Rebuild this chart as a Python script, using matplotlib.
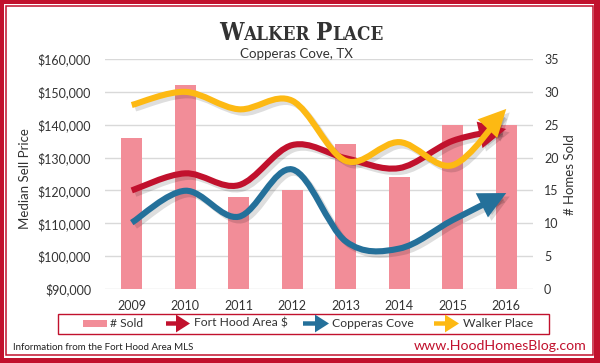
import numpy as np
import matplotlib
matplotlib.use("Agg")
import matplotlib.pyplot as plt
from matplotlib.path import Path
from matplotlib.patches import FancyArrowPatch, Rectangle
import matplotlib.transforms as mtransforms

# ---------------- data ----------------
years = ["2009", "2010", "2011", "2012", "2013", "2014", "2015", "2016"]
homes_sold = [23, 31, 14, 15, 22, 17, 25, 25]
fort_hood = [120000, 125200, 121600, 133800, 129800, 126800, 135100, 138700]
copperas_cove = [110200, 119900, 112000, 126400, 104500, 102300, 111000, 119200]
walker_place = [146000, 150000, 144700, 147300, 129000, 134700, 127700, 144800]

series_names = ["Fort Hood Area $", "Copperas Cove", "Walker Place"]
price_ticks = [90000, 100000, 110000, 120000, 130000, 140000, 150000, 160000]
sold_ticks = [0, 5, 10, 15, 20, 25, 30, 35]

RED = "#C1112D"
BLUE = "#24709A"
YELLOW = "#FDB913"
PINK = "#F28D98"
TXT = "#333333"
FONT = "Lato"

W, H = 600, 363
fig = plt.figure(figsize=(W / 100, H / 100), dpi=100)
fig.patch.set_facecolor(RED)
px = mtransforms.Affine2D().scale(1 / W, -1 / H).translate(0, 1) + fig.transFigure

# frame
fig.patches.append(Rectangle((3.5, 4), 590.5, 354, transform=px, facecolor="white",
                             edgecolor="none", zorder=-10))
fig.patches.append(Rectangle((5.5, 5.8), 587, 349.5, transform=px, facecolor="none",
                             edgecolor=RED, lw=1.1, zorder=-9))

# axes: bars axis (drawn first), price axis on top
ax = fig.add_axes([105 / W, 1 - 289 / H, 428 / W, 230 / H])
ax2 = ax.twinx()
x = np.arange(len(years))

ax.bar(x, homes_sold, width=0.39, color=PINK, zorder=2)
ax.set_ylim(0, 35)
ax.set_yticks(sold_ticks)
ax.set_xlim(-0.5, len(years) - 0.5)
ax.set_xticks(x)
ax.set_xticklabels(years)
ax.grid(axis="y", color="#D9D9D9", lw=1.0)
ax.set_axisbelow(True)
ax.yaxis.tick_right()
ax.yaxis.set_label_position("right")
ax2.yaxis.tick_left()
ax2.yaxis.set_label_position("left")

ax2.set_ylim(90000, 160000)
ax2.set_yticks(price_ticks)
ax2.set_yticklabels([f"${v:,.0f}" for v in price_ticks])

for a in (ax, ax2):
    for s in a.spines.values():
        s.set_visible(False)
    a.tick_params(length=0, colors=TXT, labelsize=9)
    for lab in a.get_xticklabels() + a.get_yticklabels():
        lab.set_fontfamily(FONT)
ax.tick_params(axis="y", pad=8)
ax2.tick_params(axis="y", pad=10)
ax.tick_params(axis="x", pad=8)
ax.patch.set_visible(False)

ax2.set_ylabel("Median Sell Price", fontfamily=FONT, fontsize=9.5, color=TXT)
ax2.yaxis.set_label_coords(31, 179, transform=px)
ax.set_ylabel("# Homes Sold", fontfamily=FONT, fontsize=9.5, color=TXT)
ax.yaxis.set_label_coords(564, 175, transform=px)


def smooth_path(xs, ys):
    pts = np.column_stack([xs, ys]).astype(float)
    n = len(pts)
    verts = [pts[0]]
    codes = [Path.MOVETO]
    for i in range(n - 1):
        p_prev = pts[i - 1] if i > 0 else pts[i]
        p_next2 = pts[i + 2] if i + 2 < n else pts[i + 1]
        c1 = pts[i] + (pts[i + 1] - p_prev) / 6.0
        c2 = pts[i + 1] - (p_next2 - pts[i]) / 6.0
        verts += [c1, c2, pts[i + 1]]
        codes += [Path.CURVE4] * 3
    return Path(np.array(verts), codes)


arrow_style = "-|>,head_length=1.25,head_width=0.62"
shadow_off = mtransforms.ScaledTranslation(2.5 / 72, -2.5 / 72, fig.dpi_scale_trans)
for vals, col in ((fort_hood, RED), (copperas_cove, BLUE), (walker_place, YELLOW)):
    p = smooth_path(x, vals)
    sh = FancyArrowPatch(path=p, arrowstyle=arrow_style, mutation_scale=10,
                         lw=4.4, color=(0, 0, 0, 0.13), joinstyle="miter",
                         capstyle="butt", transform=ax2.transData + shadow_off, zorder=3)
    ax2.add_patch(sh)
    ar = FancyArrowPatch(path=p, arrowstyle=arrow_style, mutation_scale=10,
                         lw=4.4, color=col, joinstyle="miter", capstyle="butt",
                         transform=ax2.transData, zorder=4)
    ax2.add_patch(ar)

# title (small-caps look)
renderer = fig.canvas.get_renderer()
pieces = [("W", 17.5), ("ALKER", 13.5), (" ", 13.5), ("P", 17.5), ("LACE", 13.5)]
texts = []
for s, fs in pieces:
    t = fig.text(0, 39.5, s, transform=px, fontsize=fs, fontfamily="DejaVu Serif",
                 fontweight="bold", fontstretch="condensed", color=TXT,
                 ha="left", va="baseline")
    texts.append(t)
widths = [t.get_window_extent(renderer).width for t in texts]
total = sum(widths)
cur = 301 - total / 2
for t, w in zip(texts, widths):
    t.set_x(cur)
    cur += w

fig.text(296, 54, "Copperas Cove, TX", transform=px, fontsize=9.6, fontfamily=FONT,
         color=TXT, ha="center", va="center")

# legend (manual)
fig.patches.append(Rectangle((58, 313.5), 491, 20.5, transform=px, facecolor="white",
                             edgecolor=RED, lw=1.0))
ly = 323.5
fig.patches.append(Rectangle((83, ly - 3.5), 24, 7, transform=px, facecolor=PINK,
                             edgecolor="none"))
fig.text(110, ly, "# Sold", transform=px, fontsize=8.7, fontfamily=FONT, color=TXT,
         ha="left", va="center")
leg_items = [(166, 190, RED, series_names[0], 194),
             (303, 329, BLUE, series_names[1], 332),
             (434, 459, YELLOW, series_names[2], 463)]
for x0, x1, col, name, tx in leg_items:
    fig.patches.append(FancyArrowPatch((x0, ly), (x1, ly), transform=px,
                                       arrowstyle="-|>,head_length=0.55,head_width=0.35",
                                       mutation_scale=10, lw=3.2, color=col,
                                       joinstyle="miter", capstyle="butt",
                                       shrinkA=0, shrinkB=0))
    fig.text(tx, ly, name, transform=px, fontsize=8.7, fontfamily=FONT, color=TXT,
             ha="left", va="center")

fig.text(13, 348, "Information from the Fort Hood Area MLS", transform=px, fontsize=7,
         fontfamily=FONT, color="#222222", ha="left", va="center")
fig.text(587, 346, "www.HoodHomesBlog.com", transform=px, fontsize=10.2,
         fontfamily=FONT, color=RED, ha="right", va="center")

fig.savefig("out.png", dpi=100, facecolor=fig.get_facecolor())
